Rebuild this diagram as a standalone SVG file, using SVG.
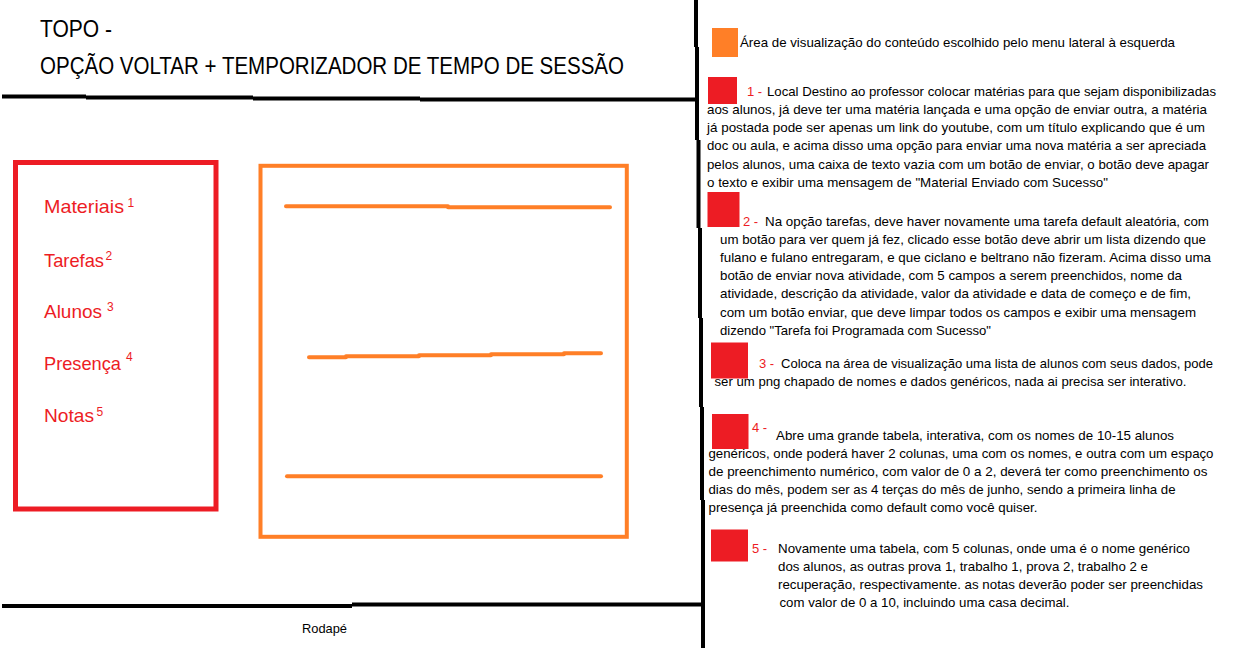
<svg xmlns="http://www.w3.org/2000/svg" width="1236" height="648" viewBox="0 0 1236 648">
<style>
.t{font-family:"Liberation Sans",Arial,sans-serif;font-size:13px;fill:#000}
.n{font-family:"Liberation Sans",Arial,sans-serif;font-size:13px;fill:#ED1C24}
.h{font-family:"Liberation Sans",Arial,sans-serif;font-size:24px;fill:#000}
.m{font-family:"Liberation Sans",Arial,sans-serif;font-size:18.5px;fill:#ED1C24}
.s{font-family:"Liberation Sans",Arial,sans-serif;font-size:12px;fill:#ED1C24}
.bk{stroke:#000;stroke-width:4;fill:none}
.or{stroke:#FF7F27;stroke-width:4;fill:none}
.red{fill:#ED1C24}
</style>
<rect width="1236" height="648" fill="#fff"/>
<g id="dividers">
<path class="bk" d="M2 96.5H86M86 97.5H253M253 98.5H420M420 99.5H696"/>
<path class="bk" d="M696 0V47M697 47V140M698.5 140V228M700 228V318M701 318V407M702 407V500M703 500V648"/>
<path class="bk" d="M2 606H352M352 604.5H703"/>
</g>
<g id="title">
<text class="h" x="40" y="37" textLength="72" lengthAdjust="spacingAndGlyphs">TOPO -</text>
<text class="h" x="40" y="74" textLength="584" lengthAdjust="spacingAndGlyphs">OPÇÃO VOLTAR + TEMPORIZADOR DE TEMPO DE SESSÃO</text>
</g>
<g id="menu">
<rect x="15.5" y="162.5" width="200.5" height="346.5" fill="none" stroke="#ED1C24" stroke-width="5"/>
<text class="m" x="44" y="213.3" textLength="80" lengthAdjust="spacingAndGlyphs">Materiais</text>
<text class="s" x="127.5" y="207">1</text>
<text class="m" x="44" y="266.7" textLength="60" lengthAdjust="spacingAndGlyphs">Tarefas</text>
<text class="s" x="105.5" y="260">2</text>
<text class="m" x="44" y="317.7" textLength="58" lengthAdjust="spacingAndGlyphs">Alunos</text>
<text class="s" x="107" y="311">3</text>
<text class="m" x="44" y="370" textLength="77" lengthAdjust="spacingAndGlyphs">Presença</text>
<text class="s" x="126" y="361">4</text>
<text class="m" x="44" y="421.7" textLength="50" lengthAdjust="spacingAndGlyphs">Notas</text>
<text class="s" x="96.5" y="416">5</text>
</g>
<g id="content-area">
<rect x="260.5" y="165.8" width="366.3" height="371" class="or" stroke-width="5"/>
<path class="or" stroke-linecap="round" d="M286 206.3H448M448 207.3H610"/>
<path class="or" stroke-linecap="round" d="M309 357.3H346M346 356.3H419M419 355.3H491M491 354.3H564M564 353.3H601"/>
<path class="or" stroke-linecap="round" d="M287 476.3H601"/>
</g>
<g id="footer">
<text class="t" x="302" y="633" textLength="45" lengthAdjust="spacingAndGlyphs">Rodapé</text>
</g>
<g id="legend-area">
<rect x="712" y="28" width="26" height="29" fill="#FF7F27"/>
<text class="t" x="740" y="47" textLength="435" lengthAdjust="spacingAndGlyphs">Área de visualização do conteúdo escolhido pelo menu lateral à esquerda</text>
</g>
<g id="note-1">
<text class="n" x="747" y="95.5">1 -</text>
<text class="t" x="767" y="95.5" textLength="449" lengthAdjust="spacingAndGlyphs">Local Destino ao professor colocar matérias para que sejam disponibilizadas</text>
<text class="t" x="707" y="113.8" textLength="500" lengthAdjust="spacingAndGlyphs">aos alunos, já deve ter uma matéria lançada e uma opção de enviar outra, a matéria</text>
<text class="t" x="707" y="132.1" textLength="498" lengthAdjust="spacingAndGlyphs">já postada pode ser apenas um link do youtube, com um título explicando que é um</text>
<text class="t" x="707" y="150.4" textLength="499" lengthAdjust="spacingAndGlyphs">doc ou aula, e acima disso uma opção para enviar uma nova matéria a ser apreciada</text>
<text class="t" x="707" y="168.7" textLength="502" lengthAdjust="spacingAndGlyphs">pelos alunos, uma caixa de texto vazia com um botão de enviar, o botão deve apagar</text>
<text class="t" x="707" y="187" textLength="401" lengthAdjust="spacingAndGlyphs">o texto e exibir uma mensagem de "Material Enviado com Sucesso"</text>
<rect class="red" x="708" y="77" width="29" height="27"/>
</g>
<g id="note-2">
<text class="n" x="743" y="226">2 -</text>
<text class="t" x="765" y="226" textLength="444" lengthAdjust="spacingAndGlyphs">Na opção tarefas, deve haver novamente uma tarefa default aleatória, com</text>
<text class="t" x="720" y="244.1" textLength="486" lengthAdjust="spacingAndGlyphs">um botão para ver quem já fez, clicado esse botão deve abrir um lista dizendo que</text>
<text class="t" x="720" y="262.2" textLength="491" lengthAdjust="spacingAndGlyphs">fulano e fulano entregaram, e que ciclano e beltrano não fizeram. Acima disso uma</text>
<text class="t" x="720" y="280.3" textLength="462" lengthAdjust="spacingAndGlyphs">botão de enviar nova atividade, com 5 campos a serem preenchidos, nome da</text>
<text class="t" x="720" y="298.4" textLength="471" lengthAdjust="spacingAndGlyphs">atividade, descrição da atividade, valor da atividade e data de começo e de fim,</text>
<text class="t" x="720" y="316.5" textLength="476" lengthAdjust="spacingAndGlyphs">com um botão enviar, que deve limpar todos os campos e exibir uma mensagem</text>
<text class="t" x="720" y="334.6" textLength="271" lengthAdjust="spacingAndGlyphs">dizendo "Tarefa foi Programada com Sucesso"</text>
<rect class="red" x="707.5" y="192" width="32" height="35"/>
</g>
<g id="note-3">
<text class="n" x="759" y="368">3 -</text>
<text class="t" x="781" y="368" textLength="432" lengthAdjust="spacingAndGlyphs">Coloca na área de visualização uma lista de alunos com seus dados, pode</text>
<text class="t" x="714.5" y="386" textLength="472" lengthAdjust="spacingAndGlyphs">ser um png chapado de nomes e dados genéricos, nada ai precisa ser interativo.</text>
<rect class="red" x="711" y="342.5" width="37" height="36"/>
</g>
<g id="note-4">
<text class="n" x="752" y="432">4 -</text>
<text class="t" x="776" y="440" textLength="398" lengthAdjust="spacingAndGlyphs">Abre uma grande tabela, interativa, com os nomes de 10-15 alunos</text>
<text class="t" x="708.5" y="458" textLength="505" lengthAdjust="spacingAndGlyphs">genéricos, onde poderá haver 2 colunas, uma com os nomes, e outra com um espaço</text>
<text class="t" x="708.5" y="476" textLength="499" lengthAdjust="spacingAndGlyphs">de preenchimento numérico, com valor de 0 a 2, deverá ter como preenchimento os</text>
<text class="t" x="708.5" y="494" textLength="467" lengthAdjust="spacingAndGlyphs">dias do mês, podem ser as 4 terças do mês de junho, sendo a primeira linha de</text>
<text class="t" x="708.5" y="512" textLength="329" lengthAdjust="spacingAndGlyphs">presença já preenchida como default como você quiser.</text>
<rect class="red" x="712" y="414" width="36.5" height="35"/>
</g>
<g id="note-5">
<text class="n" x="752" y="553">5 -</text>
<text class="t" x="778" y="553" textLength="412" lengthAdjust="spacingAndGlyphs">Novamente uma tabela, com 5 colunas, onde uma é o nome genérico</text>
<text class="t" x="778" y="571" textLength="370" lengthAdjust="spacingAndGlyphs">dos alunos, as outras prova 1, trabalho 1, prova 2, trabalho 2 e</text>
<text class="t" x="778" y="589" textLength="425" lengthAdjust="spacingAndGlyphs">recuperação, respectivamente. as notas deverão poder ser preenchidas</text>
<text class="t" x="779.5" y="607" textLength="290" lengthAdjust="spacingAndGlyphs">com valor de 0 a 10, incluindo uma casa decimal.</text>
<rect class="red" x="711" y="529.5" width="37" height="32"/>
</g>
</svg>
